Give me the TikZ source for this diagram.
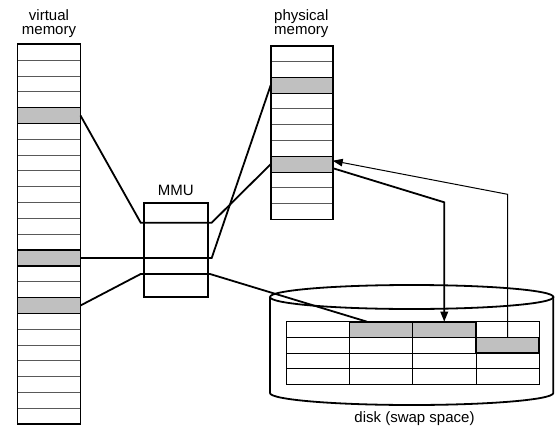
\documentclass[tikz,border=0pt]{standalone}
\usepackage{fontspec}
\setmainfont{Liberation Sans}
\usetikzlibrary{arrows.meta,calc}
\definecolor{cellgray}{RGB}{192,192,192}
\begin{document}
\begin{tikzpicture}[x=1pt,y=-1pt,
  lbl/.style={font=\fontsize{15}{13.5}\selectfont, align=center, inner sep=0pt},
  vcell/.style={draw=black!65, line width=0.9pt, minimum width=63pt, minimum height=15.83pt, inner sep=0pt, outer sep=0pt, anchor=north west},
  pcell/.style={vcell, minimum width=62pt, minimum height=15.8pt},
  dcell/.style={draw=black, line width=0.6pt, minimum width=63.3pt, minimum height=15.65pt, inner sep=0pt, outer sep=0pt, anchor=north west},
  hot/.style={fill=cellgray, draw=black, line width=1.2pt},
  hotd/.style={fill=cellgray, draw=black, line width=1.6pt},
  outline/.style={draw=black, line width=1.8pt},
  conn/.style={draw=black, line width=1.8pt, line join=miter},
  thinconn/.style={draw=black, line width=1pt, line join=miter},
  tip/.style={-{Triangle[length=10pt,width=7.5pt]}}
]
\useasboundingbox (0,0) rectangle (556,428);

% labels
\node[lbl] (vlab) at (49,23.5) {virtual\\memory};
\node[lbl] (plab) at (301.3,23.5) {physical\\memory};
\node[lbl, anchor=base] (mlab) at (175.8,195.7) {MMU};
\node[lbl, anchor=base] (dlab) at (414.5,422) {disk (swap space)};

% virtual memory
\foreach \i in {0,...,23} \node[vcell] (v\i) at (17.5,{44.3+15.83*\i}) {};
\foreach \i in {4,13,16} \path[hot] (v\i.north west) rectangle (v\i.south east);
\draw[outline] (v0.north west) rectangle (v23.south east);

% physical memory
\foreach \i in {0,...,10} \node[pcell] (p\i) at (270.7,{45.7+15.8*\i}) {};
\foreach \i in {2,7} \path[hot] (p\i.north west) rectangle (p\i.south east);
\draw[outline] (p0.north west) rectangle (p10.south east);

% MMU
\node[outline, minimum width=63.7pt, minimum height=94.6pt, inner sep=0pt, outer sep=0pt, anchor=north west] (mmu) at (144,202.7) {};

% disk cylinder
\draw[outline] (411.7,297) ellipse [x radius=141.7pt, y radius=12pt];
\draw[outline] (270,297) -- (270,393)
  .. controls (270,399.6) and (333.4,405) .. (411.7,405)
  .. controls (490,405) and (553.3,399.6) .. (553.3,393) -- (553.3,297);

% disk table
\foreach \r in {0,...,3}
  \foreach \c in {0,...,3}
    \node[dcell] (d\r\c) at ({286+63.3*\c},{321.7+15.65*\r}) {};
\path[hotd] (d01.north west) rectangle (d01.south east);
\path[hotd] (d02.north west) rectangle (d02.south east);
\path[hotd] (d13.north west) rectangle (d13.south east);

% MMU mapping coordinates
\coordinate (m1l) at (140.7,222.7);
\coordinate (m1r) at (211.7,222.7);
\coordinate (m2r) at (v13.east -| m1r);
\coordinate (m3l) at (140.7,274);
\coordinate (m3r) at (210,274);
\coordinate (d01a) at ($(d01.north west)!0.28!(d01.north east)$);

% connectors
\draw[conn] (v4.east) -- (m1l) -- (m1r) -- (p7.west);
\draw[conn] (v13.east) -- (m2r) -- (p2.west);
\draw[conn] (v16.east) -- (m3l) -- (m3r) -- (d01a);

% page-in / page-out arrows
\coordinate (pout) at ($(p7.north east)!0.75!(p7.south east)$);
\coordinate (pin) at ($(p7.north east)!0.28!(p7.south east)$);
\coordinate (k1) at (d02.north |- 0,202.3);
\coordinate (k2) at (d13.north |- 0,194.3);
\draw[conn, tip] (pout) -- (k1) -- (d02.north);
\draw[thinconn, tip] (d13.north) -- (k2) -- (pin);
\end{tikzpicture}
\end{document}
